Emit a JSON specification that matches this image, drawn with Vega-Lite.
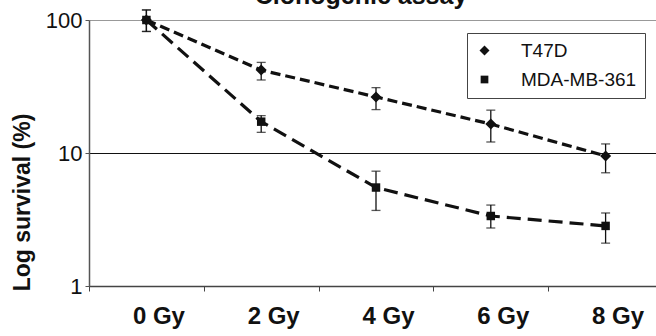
{
  "$schema": "https://vega.github.io/schema/vega-lite/v6.json",
  "width": 574,
  "height": 266,
  "autosize": {"type": "none"},
  "padding": {"left": 89, "top": 20, "right": 0, "bottom": 50},
  "background": "white",
  "title": {
    "text": "Clonogenic assay",
    "font": "Liberation Sans",
    "fontSize": 25,
    "fontWeight": "bold",
    "color": "#111",
    "anchor": "middle",
    "dx": -15,
    "offset": 0
  },
  "data": {
    "values": [
      {"series": "T47D", "dose": "0 Gy", "y": 100, "lo": 82, "hi": 119},
      {"series": "T47D", "dose": "2 Gy", "y": 42, "lo": 35.4, "hi": 48},
      {"series": "T47D", "dose": "4 Gy", "y": 26.4, "lo": 21.2, "hi": 31},
      {"series": "T47D", "dose": "6 Gy", "y": 16.5, "lo": 12.1, "hi": 21},
      {"series": "T47D", "dose": "8 Gy", "y": 9.5, "lo": 7.1, "hi": 11.7},
      {"series": "MDA-MB-361", "dose": "0 Gy", "y": 100, "lo": 82, "hi": 119},
      {"series": "MDA-MB-361", "dose": "2 Gy", "y": 17.2, "lo": 14.3, "hi": 19.1},
      {"series": "MDA-MB-361", "dose": "4 Gy", "y": 5.5, "lo": 3.7, "hi": 7.3},
      {"series": "MDA-MB-361", "dose": "6 Gy", "y": 3.36, "lo": 2.73, "hi": 4.06},
      {"series": "MDA-MB-361", "dose": "8 Gy", "y": 2.83, "lo": 2.1, "hi": 3.54}
    ]
  },
  "encoding": {
    "x": {
      "field": "dose",
      "type": "ordinal",
      "sort": ["0 Gy", "2 Gy", "4 Gy", "6 Gy", "8 Gy"],
      "scale": {"type": "band", "paddingInner": 0, "paddingOuter": 0},
      "axis": {
        "title": null,
        "labelAngle": 0,
        "labelFont": "Liberation Sans",
        "labelFontSize": 24,
        "labelFontWeight": "bold",
        "labelColor": "#111",
        "labelPadding": 13,
        "labelOffset": 12,
        "tickBand": "extent",
        "tickSize": 5,
        "tickColor": "#444",
        "domainColor": "#444",
        "domainWidth": 1.5,
        "grid": false
      }
    }
  },
  "layer": [
    {
      "mark": {
        "type": "errorbar",
        "color": "#111",
        "thickness": 1.3,
        "ticks": {"size": 9, "thickness": 1.3, "color": "#111"}
      },
      "encoding": {
        "y": {
          "field": "lo",
          "type": "quantitative",
          "scale": {"type": "log", "domain": [1, 100], "nice": false},
          "axis": {
            "title": "Log survival (%)",
            "titleFont": "Liberation Sans",
            "titleFontSize": 23,
            "titleFontWeight": "bold",
            "titleColor": "#111",
            "titleX": -55,
            "titleY": 182,
            "values": [1, 10, 100],
            "format": "d",
            "labelFont": "Liberation Sans",
            "labelFontSize": 22,
            "labelColor": "#111",
            "labelPadding": 3,
            "tickSize": 4,
            "tickColor": "#555",
            "domainColor": "#555",
            "domainWidth": 1.5,
            "grid": true,
            "gridColor": {"condition": {"test": "datum.value >= 100", "value": "#999"}, "value": "#111"},
            "gridWidth": 1.2
          }
        },
        "y2": {"field": "hi"}
      }
    },
    {
      "mark": {"type": "line", "color": "#111", "strokeWidth": 3.2},
      "encoding": {
        "y": {
          "field": "y",
          "type": "quantitative",
          "scale": {"type": "log", "domain": [1, 100], "nice": false},
          "axis": {
            "title": "Log survival (%)",
            "titleFont": "Liberation Sans",
            "titleFontSize": 23,
            "titleFontWeight": "bold",
            "titleColor": "#111",
            "titleX": -55,
            "titleY": 182,
            "values": [1, 10, 100],
            "format": "d",
            "labelFont": "Liberation Sans",
            "labelFontSize": 22,
            "labelColor": "#111",
            "labelPadding": 3,
            "tickSize": 4,
            "tickColor": "#555",
            "domainColor": "#555",
            "domainWidth": 1.5,
            "grid": true,
            "gridColor": {"condition": {"test": "datum.value >= 100", "value": "#999"}, "value": "#111"},
            "gridWidth": 1.2
          }
        },
        "strokeDash": {
          "field": "series",
          "type": "nominal",
          "scale": {"domain": ["T47D", "MDA-MB-361"], "range": [[10, 5], [14, 7]]},
          "legend": {
            "title": null,
            "orient": "none",
            "legendX": 378,
            "legendY": 13,
            "strokeColor": "#444",
            "fillColor": "white",
            "padding": 8,
            "symbolSize": 100,
            "symbolFillColor": "#111",
            "symbolStrokeWidth": 0,
            "labelFont": "Liberation Sans",
            "labelFontSize": 19,
            "labelColor": "#111",
            "labelOffset": 27,
            "rowPadding": 9,
            "encode": {
              "symbols": {
                "shape": {
                  "condition": {"test": "datum.value === 'T47D'", "value": "M-1,-0.3H1V0.3H-1Z M2,-0.3H3.4V0.3H2Z M3.4,0L4.6,-1L5.8,0L4.6,1Z M5.8,-0.3H7V0.3H5.8Z"},
                  "value": "M-1,-0.3H1.2V0.3H-1Z M3,-0.3H3.6V0.3H3Z M3.6,-0.8H5.2V0.8H3.6Z M5.2,-0.3H6.6V0.3H5.2Z"
                },
                "size": {"value": 100},
                "fill": {"value": "#111"},
                "strokeWidth": {"value": 0},
                "opacity": {"value": 1}
              }
            }
          }
        },
        "detail": {"field": "series"}
      }
    },
    {
      "mark": {"type": "point", "filled": true, "color": "#111", "opacity": 1, "size": 121},
      "encoding": {
        "y": {
          "field": "y",
          "type": "quantitative",
          "scale": {"type": "log", "domain": [1, 100], "nice": false},
          "axis": {
            "title": "Log survival (%)",
            "titleFont": "Liberation Sans",
            "titleFontSize": 23,
            "titleFontWeight": "bold",
            "titleColor": "#111",
            "titleX": -55,
            "titleY": 182,
            "values": [1, 10, 100],
            "format": "d",
            "labelFont": "Liberation Sans",
            "labelFontSize": 22,
            "labelColor": "#111",
            "labelPadding": 3,
            "tickSize": 4,
            "tickColor": "#555",
            "domainColor": "#555",
            "domainWidth": 1.5,
            "grid": true,
            "gridColor": {"condition": {"test": "datum.value >= 100", "value": "#999"}, "value": "#111"},
            "gridWidth": 1.2
          }
        },
        "shape": {
          "field": "series",
          "type": "nominal",
          "scale": {"domain": ["T47D", "MDA-MB-361"], "range": ["diamond", "M-0.77,-0.77H0.77V0.77H-0.77Z"]},
          "legend": {
            "title": null,
            "orient": "none",
            "legendX": 378,
            "legendY": 13,
            "strokeColor": "#444",
            "fillColor": "white",
            "padding": 8,
            "symbolSize": 100,
            "symbolFillColor": "#111",
            "symbolStrokeWidth": 0,
            "labelFont": "Liberation Sans",
            "labelFontSize": 19,
            "labelColor": "#111",
            "labelOffset": 27,
            "rowPadding": 9,
            "encode": {
              "symbols": {
                "shape": {
                  "condition": {"test": "datum.value === 'T47D'", "value": "M-1,-0.3H1V0.3H-1Z M2,-0.3H3.4V0.3H2Z M3.4,0L4.6,-1L5.8,0L4.6,1Z M5.8,-0.3H7V0.3H5.8Z"},
                  "value": "M-1,-0.3H1.2V0.3H-1Z M3,-0.3H3.6V0.3H3Z M3.6,-0.8H5.2V0.8H3.6Z M5.2,-0.3H6.6V0.3H5.2Z"
                },
                "size": {"value": 100},
                "fill": {"value": "#111"},
                "strokeWidth": {"value": 0},
                "opacity": {"value": 1}
              }
            }
          }
        }
      }
    }
  ]
}
